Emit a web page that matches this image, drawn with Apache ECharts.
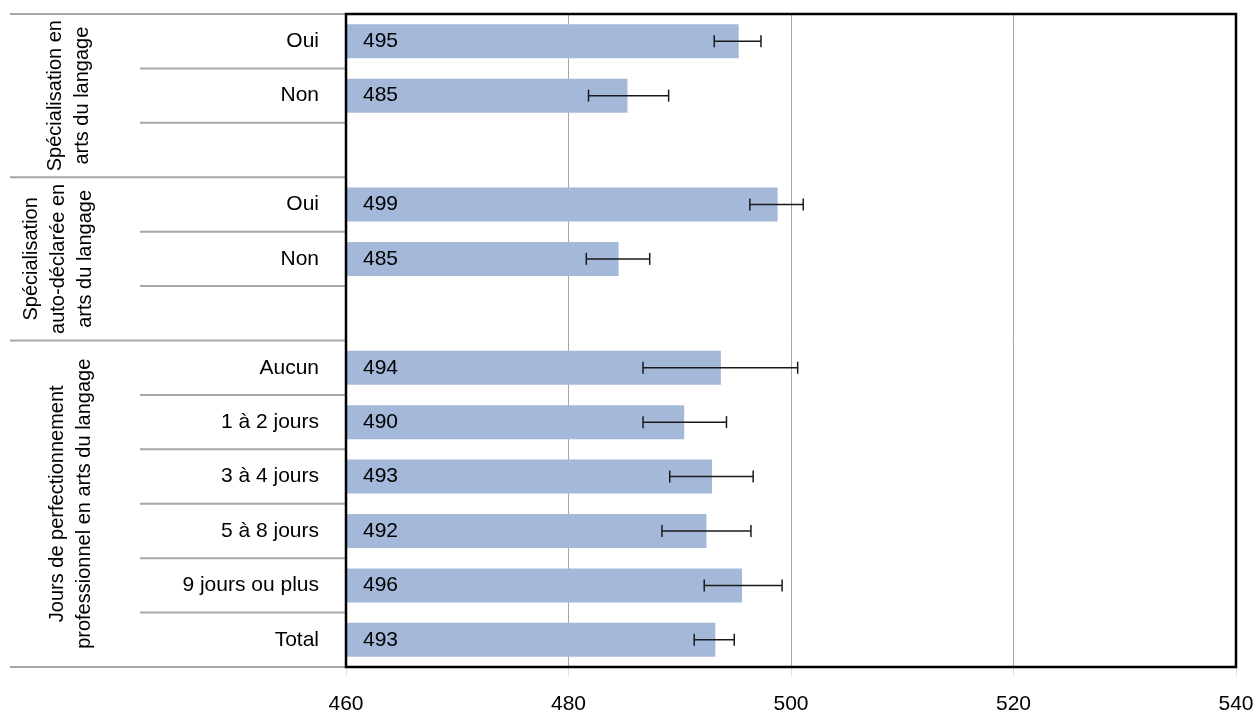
<!DOCTYPE html>
<html><head><meta charset="utf-8">
<script src="https://cdn.jsdelivr.net/npm/echarts@6/dist/echarts.min.js"></script>
<style>html,body{margin:0;padding:0;background:#fff}#c{width:1253px;height:713px}</style>
</head><body><div id="c"></div>
<script>
const categories = ['Oui','Non','','Oui','Non','','Aucun','1 à 2 jours','3 à 4 jours','5 à 8 jours','9 jours ou plus','Total'];
const values = [495.3, 485.3, null, 498.8, 484.5, null, 493.7, 490.4, 492.9, 492.4, 495.6, 493.2];
const errLow = [493.1, 481.8, null, 496.3, 481.6, null, 486.7, 486.7, 489.1, 488.4, 492.2, 491.3];
const errHigh = [497.3, 489.0, null, 501.1, 487.3, null, 500.6, 494.2, 496.6, 496.4, 499.2, 494.9];
const groupNames = ['Spécialisation en\narts du langage', 'Spécialisation\nauto-déclarée en\narts du langage', 'Jours de perfectionnement\nprofessionnel en arts du langage'];
const groupStart = [0, 3, 6];
const groupEnd = [3, 6, 12];
const xTicks = [460, 480, 500, 520, 540];

const FONT = 'Liberation Sans, Arial, sans-serif';
const chart = echarts.init(document.getElementById('c'), null, {renderer: 'canvas'});

const option = {
  animation: false,
  grid: {left: 346, right: 17, top: 14, bottom: 46, outerBoundsMode: 'none', containLabel: false,
    show: true, borderColor: '#000', borderWidth: 2.5, backgroundColor: 'transparent', z: 10},
  xAxis: {
    type: 'value', min: xTicks[0], max: xTicks[xTicks.length - 1], interval: 20,
    axisLine: {show: false},
    axisTick: {show: true, length: 9, lineStyle: {color: '#e2e2e2'}},
    splitLine: {show: true, lineStyle: {color: '#a6a6a6', width: 1}},
    axisLabel: {color: '#000', fontSize: 21, fontFamily: FONT, margin: 27}
  },
  yAxis: {
    type: 'category', data: categories, inverse: true,
    axisLine: {show: false}, axisTick: {show: false},
    axisLabel: {color: '#000', fontSize: 21, fontFamily: FONT, margin: 27}
  },
  series: [
    {
      type: 'bar', data: values, barWidth: 34,
      itemStyle: {color: '#a4b8d9'},
      label: {show: true, position: 'insideLeft', distance: 17, color: '#000', fontSize: 21, fontFamily: FONT,
        formatter: p => Math.round(p.value)}
    },
    {
      type: 'custom', z: 5,
      data: categories.map((c, i) => [i, errLow[i], errHigh[i]]).filter(d => d[1] != null),
      renderItem: function (params, api) {
        const i = api.value(0);
        const p1 = api.coord([api.value(1), i]);
        const p2 = api.coord([api.value(2), i]);
        const h = 6;
        const st = {stroke: '#1a1a1a', lineWidth: 1.5};
        return {type: 'group', children: [
          {type: 'line', shape: {x1: p1[0], y1: p1[1], x2: p2[0], y2: p2[1]}, style: st},
          {type: 'line', shape: {x1: p1[0], y1: p1[1] - h, x2: p1[0], y2: p1[1] + h}, style: st},
          {type: 'line', shape: {x1: p2[0], y1: p2[1] - h, x2: p2[0], y2: p2[1] + h}, style: st}
        ]};
      }
    }
  ]
};
chart.setOption(option);

// separators and group labels positioned from the category axis scale
const c0 = chart.convertToPixel({yAxisIndex: 0}, 0);
const c1 = chart.convertToPixel({yAxisIndex: 0}, 1);
const band = c1 - c0;
const bY = b => c0 - band / 2 + b * band;
const plotLeft = chart.convertToPixel({xAxisIndex: 0}, xTicks[0]);
const graphic = [];
const groupBounds = new Set([0].concat(groupEnd));
for (let b = 0; b <= categories.length; b++) {
  const full = groupBounds.has(b);
  const y = bY(b);
  graphic.push({type: 'line', z: 1, shape: {x1: full ? 10 : 140, y1: y, x2: plotLeft, y2: y}, style: {stroke: '#a6a6a6', lineWidth: 2}});
}
const groupX = [69, 58, 71];
groupNames.forEach((g, k) => {
  const yc = (bY(groupStart[k]) + bY(groupEnd[k])) / 2;
  graphic.push({type: 'text', x: groupX[k], y: yc, rotation: Math.PI / 2,
    style: {text: g, fill: '#000', font: '20px ' + FONT, textAlign: 'center', textVerticalAlign: 'middle', lineHeight: 27}});
});
chart.setOption({graphic: graphic});
</script></body></html>
